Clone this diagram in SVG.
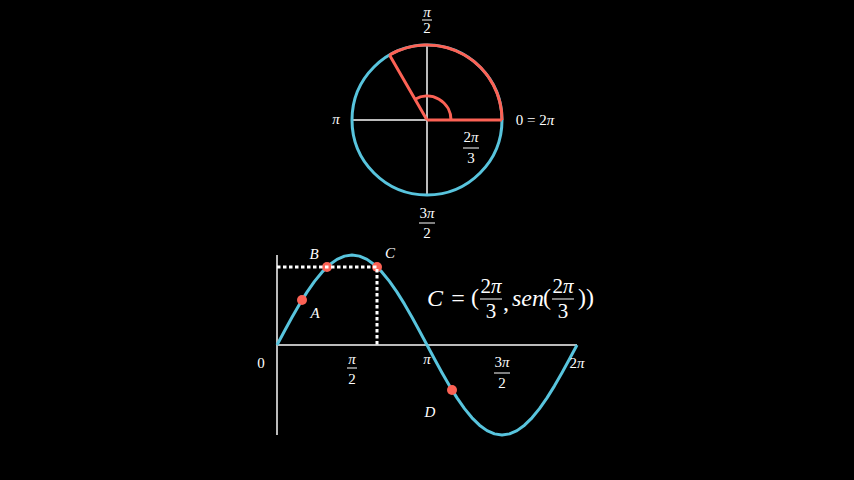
<svg xmlns="http://www.w3.org/2000/svg" width="854" height="480" viewBox="0 0 854 480">
<style>
.t{font-family:"Liberation Serif","DejaVu Serif",serif;fill:#ffffff;font-size:15px;text-anchor:middle;dominant-baseline:central}
.i{font-style:italic}
.big{font-size:21px}
.big2{font-size:24px}
.bar{stroke:#ffffff;stroke-width:1}
.ax{stroke:#bbbbbb;stroke-width:2;fill:none}
.blue{stroke:#58c4dd;stroke-width:3;fill:none}
.red{stroke:#fc6255;stroke-width:3;fill:none}
.dot{fill:#fc6255}
.dash{stroke:#ffffff;stroke-width:3;stroke-dasharray:3.5 2.5;fill:none}
</style>
<rect width="854" height="480" fill="#000000"/>

<g id="circle">
  <line class="ax" x1="352" y1="120" x2="427" y2="120"/>
  <line class="ax" x1="427" y1="45" x2="427" y2="195"/>
  <circle class="blue" cx="427" cy="120" r="75"/>
  <path class="red" d="M502,120 A75,75 0 0 0 389.5,55.05"/>
  <path class="red" d="M427,120 L502,120 M427,120 L389.5,55.05"/>
  <path class="red" d="M451,120 A24,24 0 0 0 415,99.22"/>
</g>

<g id="circle-labels">
  <text class="t i" x="427" y="12">π</text>
  <line class="bar" x1="422" y1="20" x2="432" y2="20"/>
  <text class="t" x="427" y="28">2</text>
  <text class="t i" x="336" y="119">π</text>
  <text class="t" x="535" y="120">0 = 2<tspan class="i">π</tspan></text>
  <text class="t" x="471" y="137">2<tspan class="i">π</tspan></text>
  <line class="bar" x1="463" y1="148" x2="479" y2="148"/>
  <text class="t" x="471" y="158">3</text>
  <text class="t" x="427" y="213">3<tspan class="i">π</tspan></text>
  <line class="bar" x1="419" y1="223" x2="435" y2="223"/>
  <text class="t" x="427" y="233">2</text>
</g>

<g id="graph-axes">
  <line class="ax" x1="277" y1="255" x2="277" y2="435"/>
  <line class="ax" x1="277" y1="345" x2="577" y2="345"/>
</g>

<g id="sine">
  <polyline class="blue" stroke-linejoin="round" points="277,345 284.5,330.92 292,317.19 299.5,304.14 307,292.1 314.5,281.36 322,272.19 329.5,264.81 337,259.4 344.5,256.11 352,255 359.5,256.11 367,259.4 374.5,264.81 382,272.19 389.5,281.36 397,292.1 404.5,304.14 412,317.19 419.5,330.92 427,345 434.5,359.08 442,372.81 449.5,385.86 457,397.9 464.5,408.64 472,417.81 479.5,425.19 487,430.6 494.5,433.89 502,435 509.5,433.89 517,430.6 524.5,425.19 532,417.81 539.5,408.64 547,397.9 554.5,385.86 562,372.81 569.5,359.08 577,345"/>
</g>

<g id="points">
  <circle id="A" class="dot" cx="302" cy="300" r="5"/>
  <circle id="B" class="dot" cx="327" cy="267" r="5"/>
  <circle id="C" class="dot" cx="377" cy="267" r="5"/>
  <circle id="D" class="dot" cx="452" cy="390" r="5"/>
</g>

<g id="connectors">
  <path class="dash" d="M277,267 L377,267 L377,345"/>
</g>

<g id="graph-labels">
  <text class="t i" x="314" y="254">B</text>
  <text class="t i" x="390" y="253">C</text>
  <text class="t i" x="315" y="313">A</text>
  <text class="t i" x="430" y="412">D</text>
  <text class="t" x="261" y="363">0</text>
  <text class="t i" x="352" y="359">π</text>
  <line class="bar" x1="347" y1="368" x2="357" y2="368"/>
  <text class="t" x="352" y="379">2</text>
  <text class="t i" x="427" y="359">π</text>
  <text class="t" x="502" y="362">3<tspan class="i">π</tspan></text>
  <line class="bar" x1="494" y1="373" x2="510" y2="373"/>
  <text class="t" x="502" y="383">2</text>
  <text class="t" x="577" y="363">2<tspan class="i">π</tspan></text>
</g>

<g id="formula">
  <text class="t big2 i" x="435" y="298">C</text>
  <text class="t big2" x="458" y="298">=</text>
  <text class="t big2" x="475" y="297">(</text>
  <text class="t big" x="491" y="286">2<tspan class="i">π</tspan></text>
  <line class="bar" x1="480" y1="299" x2="502" y2="299"/>
  <text class="t big" x="491" y="311">3</text>
  <text class="t big2" x="506" y="302">,</text>
  <text class="t big2 i" x="528" y="298">sen</text>
  <text class="t big2" x="547" y="297">(</text>
  <text class="t big" x="563" y="286">2<tspan class="i">π</tspan></text>
  <line class="bar" x1="552" y1="299" x2="574" y2="299"/>
  <text class="t big" x="563" y="311">3</text>
  <text class="t big2" x="586" y="297">))</text>
</g>
</svg>
